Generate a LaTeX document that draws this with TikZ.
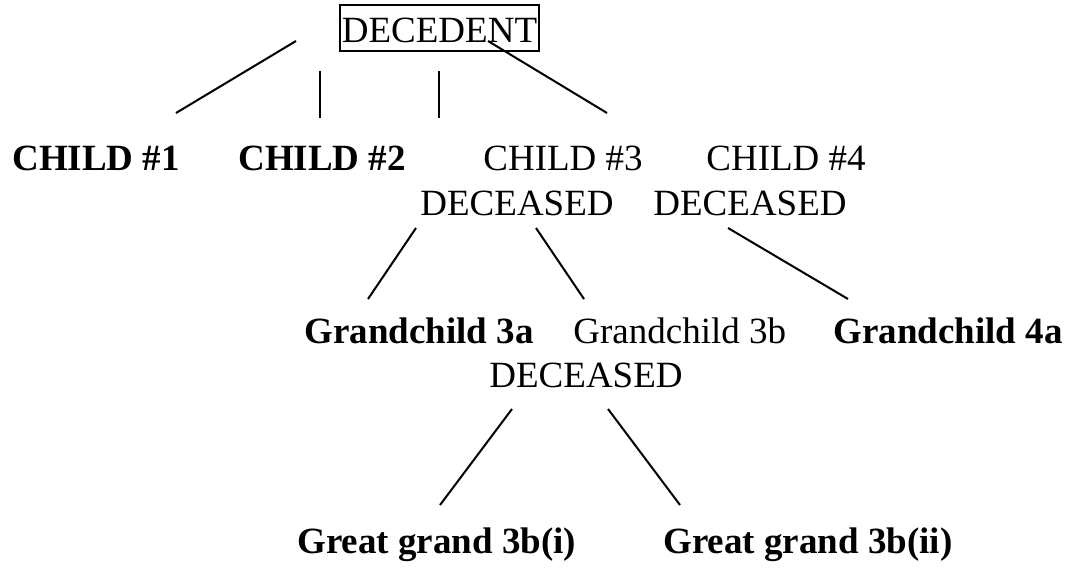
\documentclass[tikz,border=0pt]{standalone}
\usepackage{fontspec}
\setmainfont{Liberation Serif}
\begin{document}
\begin{tikzpicture}[x=0.5pt,y=-0.5pt,
  lbl/.style={anchor=base west,inner sep=0pt,font=\fontsize{18.5}{22}\selectfont},
  blbl/.style={lbl,font=\fontsize{18.5}{22}\selectfont\bfseries},
  link/.style={line width=1pt}]
\useasboundingbox (0,0) rectangle (1075,567);
% root
\node[draw,line width=1pt,anchor=base,inner xsep=1pt,inner ysep=0pt,text height=19pt,text depth=4pt,
  font=\fontsize{18.5}{22}\selectfont] (dec) at (439.5,43) {DECEDENT};
% children
\node[blbl] (c1) at (12,170) {CHILD \#1};
\node[blbl] (c2) at (238,170) {CHILD \#2};
\node[lbl] (c3) at (483,170) {CHILD \#3};
\node[lbl] (c3d) at (420,215) {DECEASED};
\node[lbl] (c4) at (706,170) {CHILD \#4};
\node[lbl] (c4d) at (653,215) {DECEASED};
% grandchildren
\node[blbl] (g3a) at (304,343) {Grandchild 3a};
\node[lbl] (g3b) at (573,343) {Grandchild 3b};
\node[lbl] (g3bd) at (489,387) {DECEASED};
\node[blbl] (g4a) at (833,343) {Grandchild 4a};
% great grandchildren
\node[blbl] (gg1) at (297,553) {Great grand 3b(i)};
\node[blbl] (gg2) at (663,553) {Great grand 3b(ii)};
% connector ends
\coordinate (a1) at (296,41);  \coordinate (b1) at (176,113);
\coordinate (a2) at (320,71);  \coordinate (b2) at (320,118);
\coordinate (a3) at (439,71);  \coordinate (b3) at (439,118);
\coordinate (a4) at (488,41);  \coordinate (b4) at (607,113);
\coordinate (a5) at (416,228); \coordinate (b5) at (368,299);
\coordinate (a6) at (536,228); \coordinate (b6) at (584,299);
\coordinate (a7) at (728,228); \coordinate (b7) at (848,299);
\coordinate (a8) at (512,409); \coordinate (b8) at (440,505);
\coordinate (a9) at (608,409); \coordinate (b9) at (680,505);
\draw[link] (a1) -- (b1);
\draw[link] (a2) -- (b2);
\draw[link] (a3) -- (b3);
\draw[link] (a4) -- (b4);
\draw[link] (a5) -- (b5);
\draw[link] (a6) -- (b6);
\draw[link] (a7) -- (b7);
\draw[link] (a8) -- (b8);
\draw[link] (a9) -- (b9);
\end{tikzpicture}
\end{document}
